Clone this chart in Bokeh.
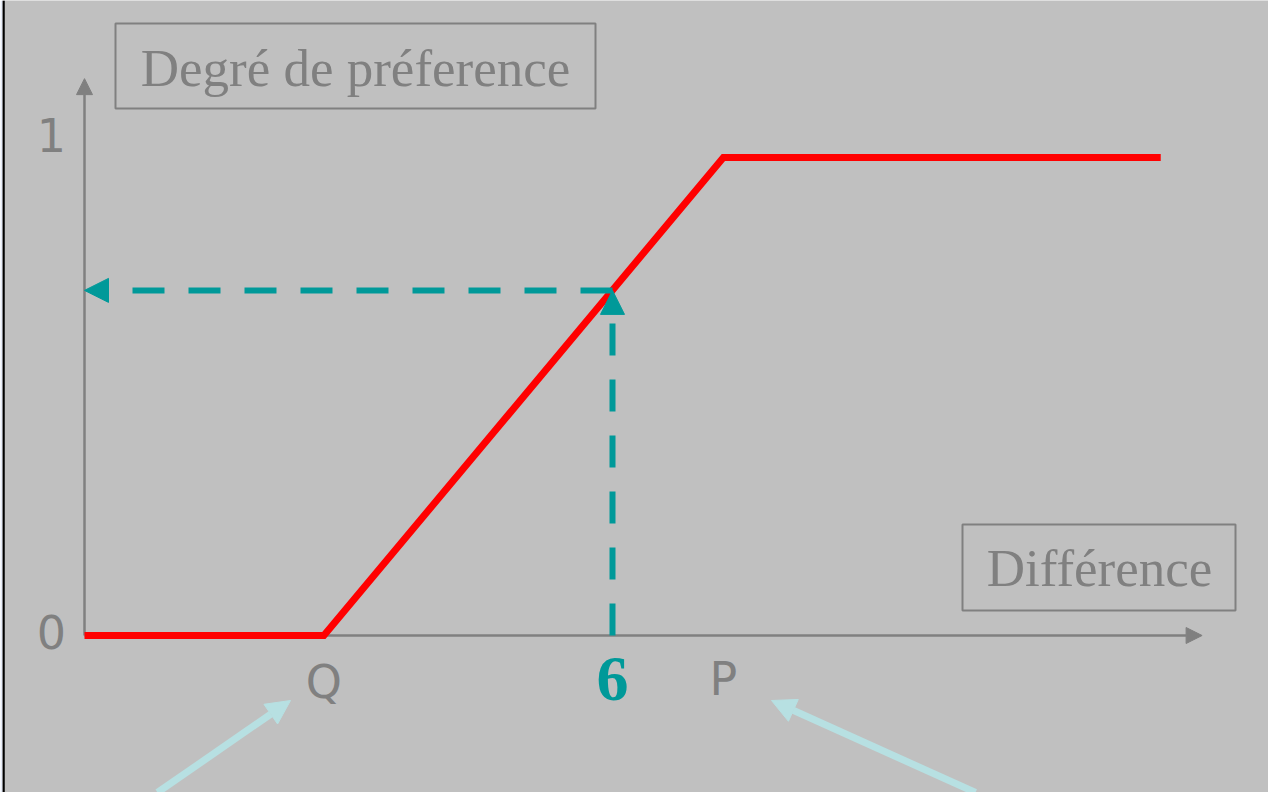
from bokeh.plotting import figure
from bokeh.models import Range1d, Arrow, NormalHead, BoxAnnotation, Span
from bokeh.core.properties import value
from bokeh.embed import file_html
from bokeh.resources import INLINE

# ---- data ----
diff_values = [0.0, 2.72, 7.26, 12.23]      # difference axis: origin, Q, P, end
pref_values = [0.0, 0.0, 1.0, 1.0]          # preference degree
threshold_labels = ["Q", "P"]
threshold_x = [2.72, 7.26]
chosen_diff = 6.0
chosen_pref = 0.722
y_tick_labels = ["0", "1"]
y_tick_values = [0.0, 1.0]
x_axis_end = 12.7
y_axis_end = 1.165

# ---- pixel mapping helpers (layout, page pixels) ----
X0, XS = 92.0, 88.0      # px of x=0, px per unit
Y0, YS = 643.0, 478.0    # px of y=0, px per unit
def dx(px): return (px - X0) / XS
def dy(py): return (Y0 - py) / YS

GRAY = "#808080"
TEAL = "#009999"
RED = "#ff0000"
PALE = "#b7e0e2"

# figure occupies page px x 8..1276, y 8..800; frame starts at x=10, y=8
p = figure(width=1268, height=792,
           x_range=Range1d(dx(10), dx(1276)), y_range=Range1d(dy(800), dy(8)),
           output_backend="svg", toolbar_location=None,
           x_axis_location=None, y_axis_location=None,
           min_border_left=2, min_border_right=0, min_border_top=0, min_border_bottom=0,
           background_fill_color="#c0c0c0", border_fill_color="#e4eaf8",
           outline_line_color=None)
p.grid.visible = False

# left black edge of the panel
p.add_layout(Span(location=dx(11), dimension="height", line_color="black", line_width=2.5))

# axes with arrow heads
p.add_layout(Arrow(x_start=0, y_start=0, x_end=x_axis_end, y_end=0,
                   line_color=GRAY, line_width=2.5, level="underlay",
                   end=NormalHead(size=16, fill_color=GRAY, line_color=GRAY, line_width=1)))
p.add_layout(Arrow(x_start=0, y_start=0, x_end=0, y_end=y_axis_end,
                   line_color=GRAY, line_width=2.5, level="underlay",
                   end=NormalHead(size=16, fill_color=GRAY, line_color=GRAY, line_width=1)))

# preference function
p.line(diff_values, pref_values, line_color=RED, line_width=7, line_join="miter")

# dashed reading arrows
p.add_layout(Arrow(x_start=chosen_diff, y_start=0, x_end=chosen_diff, y_end=chosen_pref,
                   line_color=TEAL, line_width=6, line_dash="32 24",
                   end=NormalHead(size=24, fill_color=TEAL, line_color=TEAL, line_width=1)))
p.add_layout(Arrow(x_start=chosen_diff, y_start=chosen_pref, x_end=0, y_end=chosen_pref,
                   line_color=TEAL, line_width=6, line_dash="32 24",
                   end=NormalHead(size=24, fill_color=TEAL, line_color=TEAL, line_width=1)))

# axis title boxes
p.add_layout(BoxAnnotation(left=dx(123), right=dx(603), top=dy(31), bottom=dy(116),
                           fill_alpha=0, line_color=GRAY, line_alpha=1, line_width=2))
p.add_layout(BoxAnnotation(left=dx(970), right=dx(1243), top=dy(532), bottom=dy(618),
                           fill_alpha=0, line_color=GRAY, line_alpha=1, line_width=2))
p.text(x=[dx(363), dx(1107)], y=[dy(75), dy(575.5)],
       text=["Degré de préference", "Différence"],
       text_font=value("Liberation Serif"), text_font_size="53px",
       text_color=GRAY, text_align="center", text_baseline="middle")

# y tick labels
p.text(x=[dx(59)] * 2, y=[dy(639), dy(142)], text=y_tick_labels,
       text_font=value("DejaVu Sans"), text_font_size="46px",
       text_color=GRAY, text_align="center", text_baseline="middle")

# Q, P labels
p.text(x=threshold_x, y=[dy(689), dy(686)], text=threshold_labels,
       text_font=value("DejaVu Sans"), text_font_size="46px",
       text_color=GRAY, text_align="center", text_baseline="middle")

# chosen difference label
p.text(x=[chosen_diff], y=[dy(686)], text=["6"],
       text_font=value("Liberation Serif"), text_font_size="64px", text_font_style="bold",
       text_color=TEAL, text_align="center", text_baseline="middle")

# pale pointing arrows
p.add_layout(Arrow(x_start=dx(165), y_start=dy(800), x_end=dx(298), y_end=dy(708),
                   line_color=PALE, line_width=7,
                   end=NormalHead(size=24, fill_color=PALE, line_color=PALE, line_width=1)))
p.add_layout(Arrow(x_start=dx(983), y_start=dy(800), x_end=dx(779), y_end=dy(708),
                   line_color=PALE, line_width=7,
                   end=NormalHead(size=24, fill_color=PALE, line_color=PALE, line_width=1)))

open("out.html", "w").write(file_html(p, INLINE))
